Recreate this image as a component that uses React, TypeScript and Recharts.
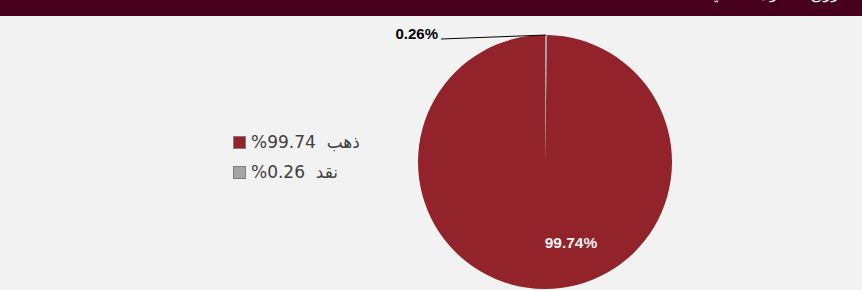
import React from 'react'
import { PieChart, Pie, Cell, Legend } from 'recharts'

const NAMES = ['نقد', 'ذهب']
const VALUES = [0.26, 99.74]
const COLORS = ['#A5A5A5', '#93232A']
const LEGEND_ORDER = [1, 0]

const data = NAMES.map((name, i) => ({ name, value: VALUES[i] }))

const RADIAN = Math.PI / 180

function renderLabel(props: any) {
  const { cx, cy, midAngle, outerRadius, index, value } = props
  if (index === 0) {
    // small slice: label pulled out to the left with a leader line
    const ex = cx + outerRadius * Math.cos(-midAngle * RADIAN)
    const ey = cy + outerRadius * Math.sin(-midAngle * RADIAN)
    const lx = ex - 105
    const ly = ey + 4
    return (
      <g>
        <line x1={ex} y1={ey} x2={lx} y2={ly} stroke="#000" strokeWidth={1} />
        <text
          x={lx - 3}
          y={ly}
          textAnchor="end"
          fontFamily="Liberation Sans, Arial, sans-serif"
          fontWeight="bold"
          fontSize={15}
          fill="#000"
        >
          {value.toFixed(2)}%
        </text>
      </g>
    )
  }
  return (
    <text
      x={cx + 26}
      y={cy + outerRadius * 0.63}
      textAnchor="middle"
      dominantBaseline="central"
      fontFamily="Liberation Sans, Arial, sans-serif"
      fontWeight="bold"
      fontSize={15.5}
      fill="#F2F2F2"
    >
      {value.toFixed(2)}%
    </text>
  )
}

function LegendBox() {
  return (
    <div style={{ fontFamily: 'DejaVu Sans, sans-serif', fontSize: 17, color: '#404040' }}>
      {LEGEND_ORDER.map((i) => (
        <div key={i} style={{ display: 'flex', alignItems: 'center', height: 30 }}>
          <span
            style={{
              width: 11,
              height: 11,
              background: COLORS[i],
              border: '1px solid #7f7f7f',
              marginRight: 5,
              display: 'inline-block',
            }}
          />
          <span dir="ltr">{`%${VALUES[i].toFixed(2)}\u00a0 ${NAMES[i]}`}</span>
        </div>
      ))}
    </div>
  )
}

export default function App() {
  return (
    <div
      style={{
        position: 'absolute',
        left: 0,
        top: 0,
        width: 862,
        height: 290,
        background: '#F2F2F2',
        overflow: 'hidden',
      }}
    >
      <div
        style={{
          position: 'absolute',
          left: 0,
          top: 0,
          width: 862,
          height: 16,
          background: '#47001B',
          overflow: 'hidden',
        }}
      >
        <div
          dir="rtl"
          style={{
            position: 'absolute',
            right: 18,
            top: -17,
            color: '#fff',
            fontFamily: 'DejaVu Sans, sans-serif',
            fontSize: 16,
            whiteSpace: 'nowrap',
          }}
        >
          توزيع الأصول الحالي
        </div>
      </div>
      <PieChart
        width={862}
        height={290}
        margin={{ top: 0, right: 0, bottom: 0, left: 0 }}
        style={{ position: 'absolute', left: 0, top: 0 }}
      >
        <Pie
          data={data}
          dataKey="value"
          nameKey="name"
          cx={545}
          cy={162}
          outerRadius={127}
          startAngle={90}
          endAngle={-270}
          stroke="none"
          label={renderLabel}
          labelLine={false}
          isAnimationActive={false}
        >
          {data.map((_, i) => (
            <Cell key={i} fill={COLORS[i]} />
          ))}
        </Pie>
        <Legend
          content={() => <LegendBox />}
          wrapperStyle={{ left: 233, top: 127, width: 'auto' }}
        />
      </PieChart>
    </div>
  )
}
